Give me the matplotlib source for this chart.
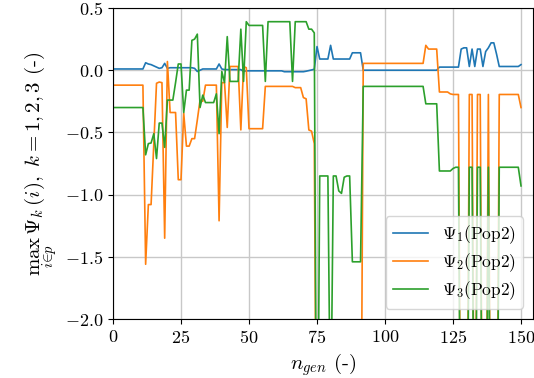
import numpy as np
import matplotlib
matplotlib.use("Agg")
import matplotlib.pyplot as plt

plt.rcParams['font.family'] = 'cmr10'
plt.rcParams['mathtext.fontset'] = 'cm'
plt.rcParams['axes.formatter.use_mathtext'] = True

# generations 0..150
n_gen = np.arange(151)

# Psi_1 (Pop2)
psi1 = [0.01, 0.01, 0.01, 0.01, 0.01, 0.01, 0.01, 0.01, 0.01, 0.01,
        0.01, 0.01, 0.06, 0.05, 0.045, 0.035, 0.025, 0.015, 0.02, 0.055,
        0.015, 0.02, 0.02, 0.02, 0.02, 0.02, 0.02, 0.02, 0.02, 0.02,
        0.015, -0.01, 0.0, 0.01, 0.01, 0.01, 0.01, 0.01, 0.01, 0.05,
        0.01, 0.005, 0.005, 0.005, 0.005, 0.005, 0.005, 0.005, -0.01, -0.005,
        -0.005, -0.005, -0.005, -0.005, -0.005, -0.005, -0.005, -0.005, -0.005, -0.005,
        -0.005, -0.005, -0.005, -0.012, -0.012, -0.012, -0.012, -0.012, -0.012, -0.012,
        -0.012, -0.008, -0.003, 0.002, 0.008, 0.19, 0.09, 0.09, 0.09, 0.09,
        0.2, 0.09, 0.09, 0.09, 0.09, 0.09, 0.09, 0.09, 0.14, 0.14,
        0.14, 0.14, 0.0, 0.0, 0.0, 0.0, 0.0, 0.0, 0.0, 0.0,
        0.0, 0.0, 0.0, 0.0, 0.0, 0.0, 0.0, 0.0, 0.0, 0.0,
        0.0, 0.0, 0.0, 0.0, 0.0, 0.0, 0.0, 0.0, 0.0, 0.0,
        0.025, 0.025, 0.025, 0.025, 0.025, 0.025, 0.025, 0.025, 0.17, 0.18,
        0.18, 0.03, 0.17, 0.03, 0.17, 0.17, 0.03, 0.15, 0.18, 0.22,
        0.22, 0.13, 0.03, 0.03, 0.03, 0.03, 0.03, 0.03, 0.03, 0.03,
        0.045]

# Psi_2 (Pop2)
psi2 = [-0.12, -0.12, -0.12, -0.12, -0.12, -0.12, -0.12, -0.12, -0.12, -0.12,
        -0.12, -0.12, -1.56, -1.08, -1.08, -0.6, -0.105, -0.095, -0.1, -1.35,
        0.07, -0.34, -0.34, -0.34, -0.88, -0.88, -0.345, -0.61, -0.61, -0.55,
        -0.55, -0.4, -0.24, -0.25, -0.12, -0.12, -0.12, -0.12, -0.12, -1.21,
        -0.1, -0.1, -0.46, 0.03, 0.03, 0.03, 0.03, -0.48, 0.03, 0.02,
        -0.47, -0.47, -0.47, -0.47, -0.47, -0.47, -0.13, -0.13, -0.13, -0.13,
        -0.13, -0.13, -0.13, -0.13, -0.13, -0.13, -0.13, -0.14, -0.14, -0.14,
        -0.22, -0.23, -0.48, -0.49, -0.59, -4.0, -4.0, -4.0, -4.0, -4.0,
        -4.0, -4.0, -4.0, -4.0, -4.0, -4.0, -4.0, -4.0, -4.0, -4.0,
        -4.0, -4.0, 0.055, 0.055, 0.055, 0.055, 0.055, 0.055, 0.055, 0.055,
        0.055, 0.055, 0.055, 0.055, 0.055, 0.055, 0.055, 0.055, 0.055, 0.055,
        0.055, 0.055, 0.055, 0.055, 0.055, 0.2, 0.17, 0.17, 0.17, 0.17,
        -0.175, -0.175, -0.175, -0.175, -0.19, -0.195, -0.195, -0.195, -4.0, -4.0,
        -4.0, -0.195, -0.195, -4.0, -0.195, -0.195, -4.0, -4.0, -0.195, -4.0,
        -4.0, -4.0, -0.195, -0.195, -0.195, -0.195, -0.195, -0.195, -0.195, -0.195,
        -0.3]

# Psi_3 (Pop2)
psi3 = [-0.3, -0.3, -0.3, -0.3, -0.3, -0.3, -0.3, -0.3, -0.3, -0.3,
        -0.3, -0.3, -0.68, -0.59, -0.585, -0.51, -0.71, -0.425, -0.425, -0.62,
        -0.24, -0.24, -0.24, -0.1, 0.05, 0.05, -0.34, -0.16, -0.16, 0.24,
        0.25, 0.29, -0.3, -0.2, -0.26, -0.26, -0.26, -0.26, -0.19, -0.51,
        -0.01, -0.1, 0.27, -0.09, -0.09, -0.09, -0.09, 0.33, -0.09, 0.39,
        0.36, 0.36, 0.36, 0.36, 0.36, 0.36, -0.09, 0.39, 0.39, 0.39,
        0.39, 0.39, 0.39, 0.39, 0.39, 0.39, -0.09, 0.39, 0.39, 0.39,
        0.39, 0.39, 0.33, 0.33, 0.30, -4.0, -0.85, -0.85, -0.85, -0.85,
        -3.0, -0.85, -0.85, -0.97, -0.99, -0.86, -0.85, -0.85, -1.54, -1.54,
        -1.54, -1.54, -0.13, -0.13, -0.13, -0.13, -0.13, -0.13, -0.13, -0.13,
        -0.13, -0.13, -0.13, -0.13, -0.13, -0.13, -0.13, -0.13, -0.13, -0.13,
        -0.13, -0.13, -0.13, -0.13, -0.13, -0.27, -0.27, -0.27, -0.27, -0.27,
        -0.81, -0.81, -0.81, -0.81, -0.81, -0.79, -0.78, -0.78, -4.0, -4.0,
        -4.0, -0.78, -0.78, -4.0, -0.78, -0.78, -4.0, -4.0, -0.78, -4.0,
        -4.0, -4.0, -0.78, -0.78, -0.78, -0.78, -0.78, -0.78, -0.78, -0.78,
        -0.93]

labels = [r'$\Psi_1$(Pop2)', r'$\Psi_2$(Pop2)', r'$\Psi_3$(Pop2)']
x_ticks = [0, 25, 50, 75, 100, 125, 150]
y_ticks = [-2.0, -1.5, -1.0, -0.5, 0.0, 0.5]


def main():
    fig = plt.figure(figsize=(5.34, 3.78), dpi=100)
    ax = fig.add_axes([0.2116, 0.156, 0.7865, 0.8228])

    for series, lab in zip([psi1, psi2, psi3], labels):
        ax.plot(n_gen, series, linewidth=1.2, label=lab)

    ax.set_xlim(0, 154.4)
    ax.set_ylim(-2.0, 0.5)
    ax.set_xticks(x_ticks)
    ax.set_yticks(y_ticks)
    ax.tick_params(labelsize=13)
    ax.grid(True, color='#c8c8c8', linewidth=1.0)
    ax.set_axisbelow(True)

    ax.set_xlabel(r'$n_{gen}$ (-)', fontsize=15)
    ax.set_ylabel(r'$\max_{i\in p}\,\Psi_k(i),\ k=1,2,3$ (-)', fontsize=15)

    ax.legend(loc='lower right', fontsize=12.5, labelspacing=0.3,
              borderaxespad=0.6)

    fig.savefig('out.png', dpi=100)


if __name__ == "__main__":
    main()
